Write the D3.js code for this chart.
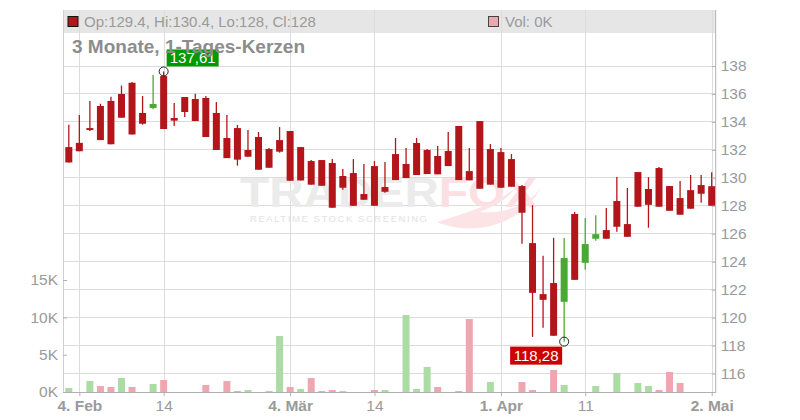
<!DOCTYPE html>
<html><head><meta charset="utf-8">
<script src="https://cdn.jsdelivr.net/npm/d3@7"></script>
<style>
body{margin:0;background:#fff;}
svg{display:block;font-family:"Liberation Sans",Arial,sans-serif;}
</style>
</head><body>
<svg id="c" width="800" height="420"></svg>
<script>
const dates = [
 "2019-02-01","2019-02-04","2019-02-05","2019-02-06","2019-02-07","2019-02-08",
 "2019-02-11","2019-02-12","2019-02-13","2019-02-14","2019-02-15",
 "2019-02-18","2019-02-19","2019-02-20","2019-02-21","2019-02-22",
 "2019-02-25","2019-02-26","2019-02-27","2019-02-28","2019-03-01",
 "2019-03-04","2019-03-05","2019-03-06","2019-03-07","2019-03-08",
 "2019-03-11","2019-03-12","2019-03-13","2019-03-14","2019-03-15",
 "2019-03-18","2019-03-19","2019-03-20","2019-03-21","2019-03-22",
 "2019-03-25","2019-03-26","2019-03-27","2019-03-28","2019-03-29",
 "2019-04-01","2019-04-02","2019-04-03","2019-04-04","2019-04-05",
 "2019-04-08","2019-04-09","2019-04-10","2019-04-11","2019-04-12",
 "2019-04-15","2019-04-16","2019-04-17","2019-04-18",
 "2019-04-23","2019-04-24","2019-04-25","2019-04-26",
 "2019-04-29","2019-04-30","2019-05-02"];
const openP = [132.2,132.5,133.56,135.14,135.5,136.0,136.8,134.64,135.0,137.28,134.28,
 135.78,135.64,135.71,134.64,132.85,133.56,131.99,132.92,132.06,132.7,
 133.35,132.2,131.2,131.27,131.06,130.13,130.34,128.84,130.84,129.34,
 131.7,130.99,132.49,131.99,131.56,131.92,133.71,130.48,134.06,132.06,
 131.84,131.34,129.41,125.33,121.68,122.47,121.13,127.41,123.92,125.64,
 126.26,128.34,126.69,130.41,129.2,130.7,129.41,128.55,129.12,129.48,129.4];
const highP = [133.8,134.5,135.5,135.3,135.8,136.6,136.85,135.85,137.35,137.61,135.35,
 135.78,136.02,135.85,135.42,134.49,133.78,133.42,133.28,132.13,133.63,
 133.35,132.2,131.27,131.27,131.34,130.63,131.34,130.99,131.2,131.13,
 132.85,132.13,132.85,132.06,132.27,133.28,133.71,132.13,134.06,132.42,
 132.13,131.7,129.48,128.05,124.42,125.71,125.69,127.55,127.12,127.33,
 127.84,130.05,129.27,130.41,130.05,130.77,129.41,129.77,130.2,130.2,130.4];
const lowP = [131.1,131.9,133.35,132.7,132.4,134.3,133.1,133.8,134.9,133.49,133.7,
 134.35,134.06,132.92,131.99,131.41,130.87,131.51,130.58,130.72,131.8,
 129.79,129.8,129.51,129.43,127.86,129.15,128.0,128.43,128.0,128.94,
 129.84,129.98,130.2,130.27,130.25,130.84,129.84,129.82,129.22,129.51,
 129.29,129.36,125.28,118.62,119.27,118.7,118.28,122.7,123.42,125.5,
 125.64,126.14,125.78,127.93,126.43,127.93,127.64,127.36,127.79,128.22,128.0];
const closeP = [131.1,131.9,133.42,132.7,132.4,134.3,133.1,133.87,135.28,133.49,134.09,
 134.71,134.06,132.92,131.99,131.41,131.3,131.51,130.58,130.72,131.87,
 129.79,129.81,129.51,129.43,127.86,129.29,128.0,128.43,128.0,129.0,
 129.84,129.98,130.2,130.27,130.25,130.84,129.84,129.82,129.22,129.51,
 129.29,129.36,127.5,121.77,121.27,118.7,124.26,122.7,125.26,125.97,
 125.64,126.5,125.78,127.93,128.07,127.93,127.64,127.36,127.79,128.86,128.0];
const volumeK = [0.54,0,1.47,0.8,0.67,1.87,0.67,0,1.07,1.61,0,
 0,0,0.94,0,1.47,0.13,0.27,0,0.13,7.5,
 0.67,0.4,1.87,0.13,0.27,0.13,0,0,0.27,0.27,
 0,10.31,0.4,3.35,0.67,0,0.13,9.77,0,1.34,
 0,0,1.34,0.27,0,2.95,0.94,0,0,0.8,
 0,2.54,0,1.2,0.8,0.27,2.68,1.2,0,0,0];

const priceTicks = [116,118,120,122,124,126,128,130,132,134,136,138];
const volumeTicks = [0,5,10,15];
const volumeTickLabels = ["0K","5K","10K","15K"];
const dateTicks = ["2019-02-04","2019-02-14","2019-03-04","2019-03-14","2019-04-01","2019-04-11","2019-05-02"];
const dateTickLabels = ["4. Feb","14","4. Mär","14","1. Apr","11","2. Mai"];
const dateTickBold = [true,false,true,false,true,false,true];
const titleText = "3 Monate, 1-Tages-Kerzen";
const legendText = "Op:129.4, Hi:130.4, Lo:128, Cl:128";
const volLegendText = "Vol: 0K";
const highLabel = "137,61";
const lowLabel = "118,28";

const W = 800, H = 420;
const L = 63, R = 715.7, T = 10, B = 392;
const RED = "#b3161a", GREEN = "#48aa32", VGREEN = "#abdca3", VPINK = "#f0a6b0";
const TXT = "#9a9a9a", GRID = "#dcdcdc";

const svg = d3.select("#c");
const x = d3.scalePoint().domain(dates).range([68.8, 711.7]);
const y = d3.scaleLinear().domain([116,138]).range([373.5,66]);
const yv = d3.scaleLinear().domain([0,15]).range([B,280]);

const data = dates.map((d,i)=>({d, o:openP[i], h:highP[i], l:lowP[i], c:closeP[i], v:volumeK[i],
  up: closeP[i] > openP[i], vup: i===0 ? true : closeP[i] >= closeP[i-1]}));

// legend background
svg.append("rect").attr("x",L).attr("y",T).attr("width",R-L).attr("height",23).attr("fill","#e6e6e6");

// gridlines
svg.append("g").selectAll("line").data(priceTicks).join("line")
  .attr("x1",L).attr("x2",R).attr("y1",d=>y(d)).attr("y2",d=>y(d))
  .attr("stroke",GRID).attr("stroke-width",1).attr("shape-rendering","crispEdges");
svg.append("g").selectAll("line").data(dateTicks).join("line")
  .attr("x1",d=>Math.round(x(d))+0.5).attr("x2",d=>Math.round(x(d))+0.5).attr("y1",T).attr("y2",B)
  .attr("stroke",GRID).attr("stroke-width",1);
svg.append("line").attr("x1",L+0.5).attr("x2",L+0.5).attr("y1",T).attr("y2",B).attr("stroke","#cfcfcf");

// watermark
const wm = svg.append("g");
const wt = wm.append("text").attr("x",240).attr("y",207).attr("font-size",42).attr("font-weight","bold")
  .attr("textLength",297).attr("lengthAdjust","spacingAndGlyphs");
wt.append("tspan").attr("fill","#ebebeb").text("TRADER");
wt.append("tspan").attr("fill","#fbdfe2").text("FOX");
wm.append("path").attr("d","M437,222 C470,236 520,228 542,186 C530,205 505,214 480,212 C500,204 510,196 515,188 C495,205 462,214 437,222 Z")
  .attr("fill","#fbe3e6");
wm.append("text").attr("x",250).attr("y",222).attr("font-size",9.5).attr("fill","#e2e2e2")
  .attr("textLength",177).attr("lengthAdjust","spacing").text("REALTIME STOCK SCREENING");

// volume bars
svg.append("g").selectAll("rect").data(data.filter(d=>d.v>0)).join("rect")
  .attr("x",d=>x(d.d)-3.5).attr("width",7)
  .attr("y",d=>yv(d.v)).attr("height",d=>B-yv(d.v))
  .attr("fill",d=>d.vup?VGREEN:VPINK);

// candles
const cg = svg.append("g").selectAll("g").data(data).join("g");
cg.append("line").attr("x1",d=>x(d.d)).attr("x2",d=>x(d.d))
  .attr("y1",d=>y(d.h)).attr("y2",d=>y(d.l))
  .attr("stroke",d=>d.up?GREEN:RED).attr("stroke-width",1.3);
cg.append("rect").attr("x",d=>x(d.d)-3.5).attr("width",7)
  .attr("y",d=>y(Math.max(d.o,d.c)))
  .attr("height",d=>Math.max(1.5, Math.abs(y(d.o)-y(d.c))))
  .attr("fill",d=>d.up?GREEN:RED);

// axes
const ax = svg.append("g").attr("transform",`translate(${R},0)`)
  .call(d3.axisRight(y).tickValues(priceTicks).tickSize(-4).tickPadding(5).tickFormat(d3.format("d")));
ax.select(".domain").remove();
ax.selectAll("line").attr("stroke","#b0b0b0");
ax.selectAll("text").attr("fill",TXT).attr("font-size",15.5).attr("font-family","Liberation Sans, Arial, sans-serif");
svg.append("line").attr("x1",R).attr("x2",R).attr("y1",T).attr("y2",B+1).attr("stroke","#b0b0b0");

const av = svg.append("g").attr("transform",`translate(${L},0)`)
  .call(d3.axisLeft(yv).tickValues(volumeTicks).tickSize(-4).tickPadding(5).tickFormat((d,i)=>volumeTickLabels[i]));
av.select(".domain").remove();
av.selectAll("line").attr("stroke","#b0b0b0");
av.selectAll("text").attr("fill",TXT).attr("font-size",15.5).attr("font-family","Liberation Sans, Arial, sans-serif");

const axb = svg.append("g").attr("transform",`translate(0,${B})`)
  .call(d3.axisBottom(x).tickValues(dateTicks).tickSize(4).tickPadding(4).tickFormat((d,i)=>dateTickLabels[i]));
axb.select(".domain").remove();
axb.selectAll("line").attr("stroke","#b0b0b0");
axb.selectAll("text").attr("fill",TXT).attr("font-size",15.5).attr("font-family","Liberation Sans, Arial, sans-serif")
  .attr("font-weight",(d,i)=>dateTickBold[i]?"bold":"normal");
svg.append("line").attr("x1",L).attr("x2",R).attr("y1",B+0.5).attr("y2",B+0.5).attr("stroke","#b0b0b0");

// high / low markers
const hiI = d3.maxIndex(highP), loI = d3.minIndex(lowP);
const hx = x(dates[hiI]), hy = y(highP[hiI]);
svg.append("rect").attr("x",hx+3).attr("y",hy-22).attr("width",52).attr("height",17).attr("fill","#009900");
svg.append("text").attr("x",hx+29).attr("y",hy-8.5).attr("text-anchor","middle").attr("font-size",15).attr("fill","#fff").text(highLabel);
svg.append("circle").attr("cx",hx).attr("cy",hy).attr("r",4.5).attr("fill","none").attr("stroke","#222").attr("stroke-width",1);
const lx = x(dates[loI]), ly = y(lowP[loI]);
svg.append("rect").attr("x",lx-54).attr("y",ly+5).attr("width",52).attr("height",18).attr("fill","#cc0000");
svg.append("text").attr("x",lx-28).attr("y",ly+19.5).attr("text-anchor","middle").attr("font-size",15).attr("fill","#fff").text(lowLabel);
svg.append("circle").attr("cx",lx).attr("cy",ly).attr("r",4.5).attr("fill","none").attr("stroke","#222").attr("stroke-width",1);

// legend
svg.append("rect").attr("x",68).attr("y",16.5).attr("width",10).attr("height",10).attr("fill",RED).attr("stroke","#111");
svg.append("text").attr("x",84).attr("y",27).attr("font-size",15).attr("fill",TXT).text(legendText);
svg.append("rect").attr("x",488.5).attr("y",16.5).attr("width",10).attr("height",10).attr("fill",VPINK).attr("stroke","#444");
svg.append("text").attr("x",505).attr("y",27).attr("font-size",15).attr("fill",TXT).text(volLegendText);

// title
svg.append("text").attr("x",72).attr("y",53).attr("font-size",19).attr("font-weight","bold").attr("fill","#8c8c8c").text(titleText);
</script>
</body></html>
